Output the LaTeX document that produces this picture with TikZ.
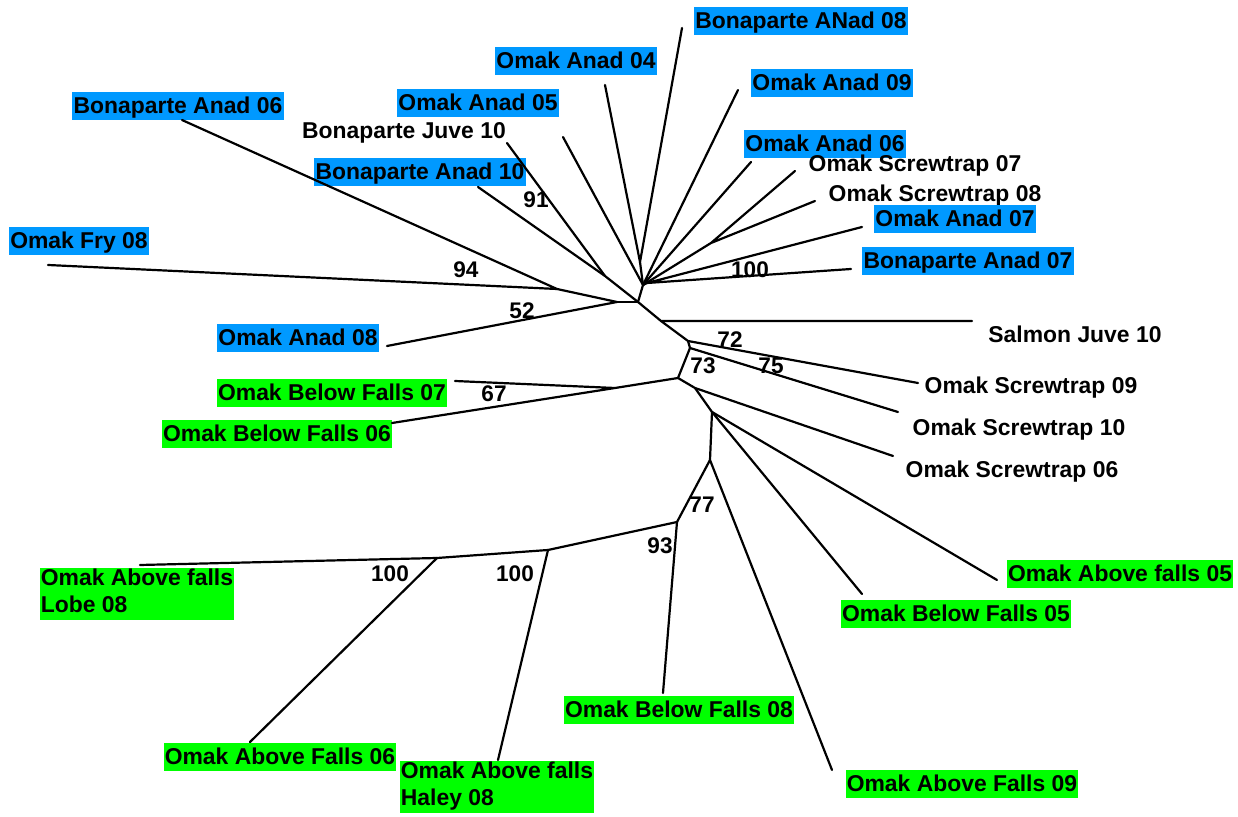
\documentclass[tikz,border=0pt]{standalone}
\usepackage{fontspec}
\setmainfont{Liberation Sans}
\definecolor{lblue}{RGB}{0,153,255}
\definecolor{lgreen}{RGB}{0,255,0}
\newcommand\lst{\rule[-3.1pt]{0pt}{13.6pt}}
\begin{document}
\begin{tikzpicture}[x=0.5pt,y=-0.5pt,
  br/.style={line width=1.1pt, line cap=round, line join=round},
  leaf/.style={font=\fontsize{11.45}{13.8}\selectfont\bfseries, inner xsep=0.6pt, inner ysep=0.3pt, execute at begin node=\lst},
  bl/.style={leaf, fill=lblue},
  gr/.style={leaf, fill=lgreen},
  bs/.style={font=\fontsize{11.3}{13}\selectfont\bfseries, inner sep=0pt}]
\useasboundingbox[fill=white] (0,0) rectangle (1238,817);
% leaf ends
\coordinate (lBA08) at (682,28);
\coordinate (lOA04) at (605,85);
\coordinate (lOA09) at (738,90);
\coordinate (lOA05) at (563,137);
\coordinate (lBA06) at (182,120);
\coordinate (lBJ10) at (507,143);
\coordinate (lOA06) at (751,162);
\coordinate (lST07) at (795,171);
\coordinate (lBA10) at (478,187);
\coordinate (lST08) at (815,201);
\coordinate (lOA07) at (862,227);
\coordinate (lOF08) at (48,265);
\coordinate (lBA07) at (851,269);
\coordinate (lSJ10) at (972,321);
\coordinate (lOA08) at (387,346);
\coordinate (lST09) at (918,383);
\coordinate (lBF07) at (455,381);
\coordinate (lST10) at (898,412);
\coordinate (lBF06) at (392,423);
\coordinate (lST06) at (893,456);
\coordinate (lAF05) at (997,580);
\coordinate (lLobe) at (140,565);
\coordinate (lBF05) at (862,594);
\coordinate (lBF08) at (663,693);
\coordinate (lAF06) at (250,742);
\coordinate (lHaley) at (498,760);
\coordinate (lAF09) at (832,770);
% internal nodes
\coordinate (nV) at (640,262);
\coordinate (nT) at (643,285);
\coordinate (nS) at (711,243);
\coordinate (nP) at (647,283);
\coordinate (n91) at (605,276);
\coordinate (n94) at (557,289);
\coordinate (n52) at (617,302);
\coordinate (nC) at (638,302);
\coordinate (nSal) at (661,321);
\coordinate (nA) at (688,341);
\coordinate (nB) at (690,348);
\coordinate (nD) at (678,378);
\coordinate (nBF) at (615,388);
\coordinate (nE) at (695,388);
\coordinate (nF) at (712,412);
\coordinate (nG) at (710,460);
\coordinate (nH) at (677,522);
\coordinate (nI) at (548,550);
\coordinate (nJ) at (437,558);
% leaf labels
\node[bl] (tBA08) at (801,21) {Bonaparte ANad 08};
\node[bl] (tOA04) at (576,61) {Omak Anad 04};
\node[bl] (tOA09) at (832,83) {Omak Anad 09};
\node[bl] (tOA05) at (478,103) {Omak Anad 05};
\node[bl] (tBA06) at (178,106) {Bonaparte Anad 06};
\node[leaf] (tBJ10) at (404,131) {Bonaparte Juve 10};
\node[bl] (tOA06) at (825,144) {Omak Anad 06};
\node[leaf] (tST07) at (915,164) {Omak Screwtrap 07};
\node[bl] (tBA10) at (420,172) {Bonaparte Anad 10};
\node[leaf] (tST08) at (935,194) {Omak Screwtrap 08};
\node[bl] (tOA07) at (955,219) {Omak Anad 07};
\node[bl] (tOF08) at (79,241) {Omak Fry 08};
\node[bl] (tBA07) at (968,261) {Bonaparte Anad 07};
\node[leaf] (tSJ10) at (1075,335) {Salmon Juve 10};
\node[bl] (tOA08) at (298,338) {Omak Anad 08};
\node[leaf] (tST09) at (1031,386) {Omak Screwtrap 09};
\node[gr] (tBF07) at (332,393) {Omak Below Falls 07};
\node[leaf] (tST10) at (1019,428) {Omak Screwtrap 10};
\node[gr] (tBF06) at (277,434) {Omak Below Falls 06};
\node[leaf] (tST06) at (1012,470) {Omak Screwtrap 06};
\node[gr] (tAF05) at (1120,574) {Omak Above falls 05};
\node[gr, align=left] (tLobe) at (137,594) {Omak Above falls\\\lst Lobe 08};
\node[gr] (tBF05) at (956,614) {Omak Below Falls 05};
\node[gr] (tBF08) at (679,710) {Omak Below Falls 08};
\node[gr] (tAF06) at (280,757) {Omak Above Falls 06};
\node[gr, align=left] (tHaley) at (497,787) {Omak Above falls\\\lst Haley 08};
\node[gr] (tAF09) at (962,784) {Omak Above Falls 09};
% branches
\draw[br] (lBA08) -- (nV) -- (lOA04);
\draw[br] (nV) -- (nT);
\draw[br] (lOA05) -- (nT);
\draw[br] (lOA09) -- (nT);
\draw[br] (lOA06) -- (nT);
\draw[br] (lST07) -- (nS) -- (lST08);
\draw[br] (nS) -- (nT);
\draw[br] (lOA07) -- (nP) -- (lBA07);
\draw[br] (nP) -- (nT);
\draw[br] (nT) -- (nC);
\draw[br] (lBJ10) -- (n91);
\draw[br] (lBA10) -- (n91) -- (nC);
\draw[br] (lBA06) -- (n94) -- (lOF08);
\draw[br] (n94) -- (n52) -- (lOA08);
\draw[br] (n52) -- (nC);
\draw[br] (nC) -- (nSal) -- (lSJ10);
\draw[br] (nSal) -- (nA) -- (lST09);
\draw[br] (nA) -- (nB) -- (lST10);
\draw[br] (nB) -- (nD);
\draw[br] (nD) -- (nBF);
\draw[br] (lBF07) -- (nBF) -- (lBF06);
\draw[br] (nD) -- (nE) -- (lST06);
\draw[br] (nE) -- (nF);
\draw[br] (nF) -- (lAF05);
\draw[br] (nF) -- (lBF05);
\draw[br] (nF) -- (nG) -- (lAF09);
\draw[br] (nG) -- (nH) -- (lBF08);
\draw[br] (nH) -- (nI) -- (lHaley);
\draw[br] (nI) -- (nJ) -- (lAF06);
\draw[br] (nJ) -- (lLobe);
% bootstrap values
\node[bs] (b91) at (536,200) {91};
\node[bs] (b94) at (466,270) {94};
\node[bs] (b52) at (522,311) {52};
\node[bs] (b100a) at (750,270) {100};
\node[bs] (b72) at (730,340) {72};
\node[bs] (b73) at (703,366) {73};
\node[bs] (b75) at (771,366) {75};
\node[bs] (b67) at (494,394) {67};
\node[bs] (b77) at (702,505) {77};
\node[bs] (b93) at (660,546) {93};
\node[bs] (b100b) at (390,574) {100};
\node[bs] (b100c) at (515,574) {100};
\end{tikzpicture}
\end{document}
